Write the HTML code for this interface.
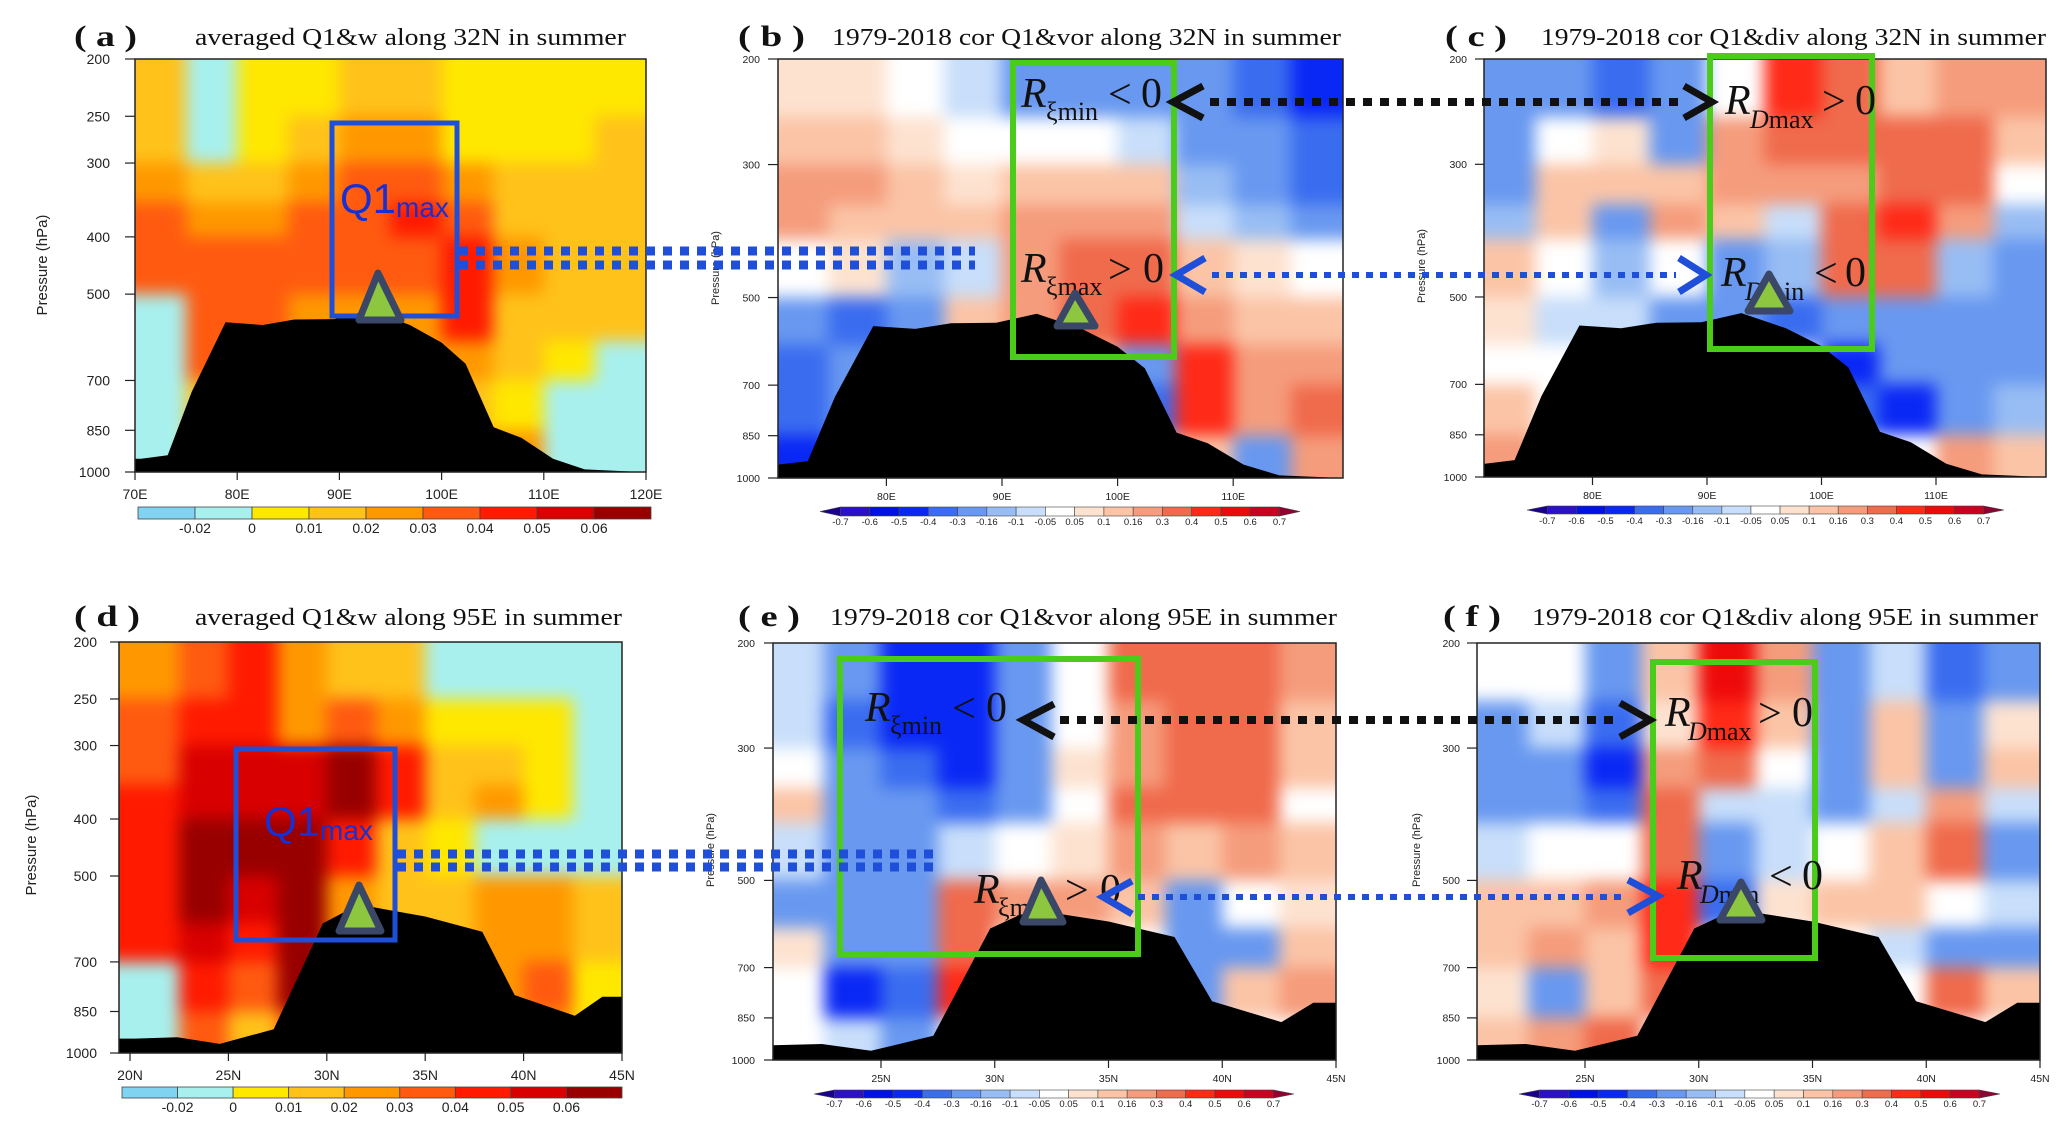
<!DOCTYPE html>
<html><head><meta charset="utf-8"><title>Q1 cross sections</title>
<style>
html,body{margin:0;padding:0;background:#fff;}
svg{display:block;font-family:"Liberation Sans",sans-serif;}
.ttl{font-family:"Liberation Serif",serif;fill:#111;}
.ann{font-family:"Liberation Serif",serif;fill:#111;}
</style></head>
<body>
<svg id="fig" width="2067" height="1130" viewBox="0 0 2067 1130" xmlns="http://www.w3.org/2000/svg">
<defs>
<filter id="blur" filterUnits="userSpaceOnUse" x="0" y="0" width="2067" height="1130" color-interpolation-filters="sRGB"><feGaussianBlur stdDeviation="8"/></filter>
</defs>
<g id="plots"></g>
<g id="annot">
  <text class="ttl" x="74" y="46" font-size="30" font-weight="bold" textLength="63" lengthAdjust="spacingAndGlyphs">( a )</text>
  <text class="ttl" x="195" y="45" font-size="24" textLength="431" lengthAdjust="spacingAndGlyphs">averaged Q1&amp;w along 32N in summer</text>
  <text class="ttl" x="738" y="46" font-size="30" font-weight="bold" textLength="67" lengthAdjust="spacingAndGlyphs">( b )</text>
  <text class="ttl" x="832" y="45" font-size="24" textLength="509" lengthAdjust="spacingAndGlyphs">1979-2018 cor Q1&amp;vor along 32N in summer</text>
  <text class="ttl" x="1445" y="46" font-size="30" font-weight="bold" textLength="62" lengthAdjust="spacingAndGlyphs">( c )</text>
  <text class="ttl" x="1541" y="45" font-size="24" textLength="505" lengthAdjust="spacingAndGlyphs">1979-2018 cor Q1&amp;div along 32N in summer</text>
  <text class="ttl" x="74" y="626" font-size="30" font-weight="bold" textLength="66" lengthAdjust="spacingAndGlyphs">( d )</text>
  <text class="ttl" x="195" y="625" font-size="24" textLength="427" lengthAdjust="spacingAndGlyphs">averaged Q1&amp;w along 95E in summer</text>
  <text class="ttl" x="738" y="626" font-size="30" font-weight="bold" textLength="62" lengthAdjust="spacingAndGlyphs">( e )</text>
  <text class="ttl" x="830" y="625" font-size="24" textLength="507" lengthAdjust="spacingAndGlyphs">1979-2018 cor Q1&amp;vor along 95E in summer</text>
  <text class="ttl" x="1443" y="626" font-size="30" font-weight="bold" textLength="58" lengthAdjust="spacingAndGlyphs">( f )</text>
  <text class="ttl" x="1532" y="625" font-size="24" textLength="506" lengthAdjust="spacingAndGlyphs">1979-2018 cor Q1&amp;div along 95E in summer</text>

  <rect x="332" y="123" width="125" height="193" fill="none" stroke="#1f4fd8" stroke-width="5"/>
  <rect x="236" y="749" width="159" height="191" fill="none" stroke="#1f4fd8" stroke-width="5"/>
  <rect x="1013" y="63" width="161" height="294" fill="none" stroke="#4ccc1a" stroke-width="6"/>
  <rect x="1710" y="56" width="162" height="293" fill="none" stroke="#4ccc1a" stroke-width="6"/>
  <rect x="840" y="659" width="298" height="295" fill="none" stroke="#4ccc1a" stroke-width="6"/>
  <rect x="1653" y="662" width="162" height="296" fill="none" stroke="#4ccc1a" stroke-width="6"/>

  <text x="340" y="213" font-size="42" fill="#1a2fd0">Q1<tspan font-size="28" dy="4">max</tspan></text>
  <text x="264" y="836" font-size="42" fill="#1a2fd0">Q1<tspan font-size="28" dy="4">max</tspan></text>

  <g class="ann"><text x="1021" y="107" font-size="42" font-style="italic">R</text><text x="1046" y="120" font-size="26">ξmin</text><text x="1108" y="108" font-size="42">&lt;</text><text x="1141" y="107" font-size="42">0</text></g>
  <g class="ann"><text x="1021" y="282" font-size="42" font-style="italic">R</text><text x="1046" y="295" font-size="26">ξmax</text><text x="1108" y="283" font-size="42">&gt;</text><text x="1143" y="282" font-size="42">0</text></g>
  <g class="ann"><text x="1725" y="114" font-size="42" font-style="italic">R</text><text x="1750" y="128" font-size="26"><tspan font-style="italic">D</tspan>max</text><text x="1822" y="115" font-size="42">&gt;</text><text x="1855" y="114" font-size="42">0</text></g>
  <g class="ann"><text x="1721" y="286" font-size="42" font-style="italic">R</text><text x="1745" y="300" font-size="26"><tspan font-style="italic">D</tspan>min</text><text x="1814" y="287" font-size="42">&lt;</text><text x="1845" y="286" font-size="42">0</text></g>
  <g class="ann"><text x="865" y="721" font-size="42" font-style="italic">R</text><text x="890" y="734" font-size="26">ξmin</text><text x="952" y="722" font-size="42">&lt;</text><text x="986" y="721" font-size="42">0</text></g>
  <g class="ann"><text x="974" y="903" font-size="42" font-style="italic">R</text><text x="998" y="916" font-size="26">ξmax</text><text x="1065" y="904" font-size="42">&gt;</text><text x="1100" y="903" font-size="42">0</text></g>
  <g class="ann"><text x="1665" y="726" font-size="42" font-style="italic">R</text><text x="1688" y="740" font-size="26"><tspan font-style="italic">D</tspan>max</text><text x="1758" y="727" font-size="42">&gt;</text><text x="1792" y="726" font-size="42">0</text></g>
  <g class="ann"><text x="1677" y="889" font-size="42" font-style="italic">R</text><text x="1700" y="903" font-size="26"><tspan font-style="italic">D</tspan>min</text><text x="1769" y="890" font-size="42">&lt;</text><text x="1802" y="889" font-size="42">0</text></g>

  <g fill="#8dc63f" stroke="#3b4766" stroke-width="7" stroke-linejoin="round">
    <polygon points="378,273 359,320 401,320"/>
    <polygon points="1075,293 1057,326 1095,326"/>
    <polygon points="1769,274 1748,311 1790,311"/>
    <polygon points="359,885 339,931 381,931"/>
    <polygon points="1041,880 1023,922 1063,922"/>
    <polygon points="1741,882 1720,920 1762,920"/>
  </g>

  <g fill="none">
    <line x1="459" y1="251" x2="975" y2="251" stroke="#1f4fd8" stroke-width="9" stroke-dasharray="9 8"/>
    <line x1="459" y1="265" x2="975" y2="265" stroke="#1f4fd8" stroke-width="9" stroke-dasharray="9 8"/>
    <line x1="1210" y1="102" x2="1680" y2="102" stroke="#111" stroke-width="8" stroke-dasharray="9 8"/>
    <line x1="1212" y1="275" x2="1676" y2="275" stroke="#1f4fd8" stroke-width="6" stroke-dasharray="7 7"/>
    <line x1="397" y1="854" x2="935" y2="854" stroke="#1f4fd8" stroke-width="9" stroke-dasharray="9 8"/>
    <line x1="397" y1="867" x2="935" y2="867" stroke="#1f4fd8" stroke-width="9" stroke-dasharray="9 8"/>
    <line x1="1060" y1="720" x2="1616" y2="720" stroke="#111" stroke-width="8" stroke-dasharray="9 8"/>
    <line x1="1138" y1="897" x2="1626" y2="897" stroke="#1f4fd8" stroke-width="6" stroke-dasharray="7 7"/>
  </g>
  <g fill="none" stroke-width="7" stroke-linejoin="miter">
    <polyline points="1203,86 1173,102 1203,118" stroke="#111"/>
    <polyline points="1205,258 1176,275 1205,292" stroke="#1f4fd8"/>
    <polyline points="1684,86 1712,102 1684,118" stroke="#111"/>
    <polyline points="1679,258 1706,275 1679,292" stroke="#1f4fd8"/>
    <polyline points="1054,704 1023,720 1054,737" stroke="#111"/>
    <polyline points="1132,881 1103,897 1132,914" stroke="#1f4fd8"/>
    <polyline points="1620,703 1650,720 1620,737" stroke="#111"/>
    <polyline points="1628,880 1658,896 1628,913" stroke="#1f4fd8"/>
  </g>
</g>
</svg>
<script>
const pressureEdges = [200, 250, 300, 350, 400, 500, 600, 700, 850, 1000];
const lonEdges = [70, 75, 80, 85, 90, 95, 100, 105, 110, 115, 120];
const latEdges = [20, 22.5, 25, 27.5, 30, 32.5, 35, 37.5, 40, 42.5, 45];

const q1Along32N = [
  [0.012,-0.005,0.004,0.006,0.012,0.012,0.0,0.006,0.006,0.003],
  [0.015,-0.005,0.006,0.01,0.02,0.02,0.006,0.008,0.008,0.012],
  [0.022,0.012,0.014,0.022,0.03,0.034,0.022,0.012,0.012,0.015],
  [0.03,0.025,0.022,0.03,0.035,0.042,0.035,0.015,0.015,0.015],
  [0.035,0.03,0.035,0.035,0.032,0.038,0.045,0.02,0.015,0.015],
  [-0.01,0.035,0.03,0.025,0.022,0.022,0.04,0.015,0.012,0.01],
  [-0.015,0.03,0.02,0.02,0.02,0.02,0.025,0.01,0.005,-0.005],
  [-0.02,0.01,0.01,0.01,0.01,0.01,0.01,0.002,-0.01,-0.01],
  [-0.015,0.0,0.01,0.01,0.01,0.01,0.01,0.02,-0.01,-0.01]
];
const corVor32N = [
  [0.05,0.05,0.0,-0.1,-0.3,-0.2,-0.25,-0.3,-0.35,-0.45],
  [0.15,0.1,0.05,-0.05,-0.05,0.0,-0.1,-0.25,-0.3,-0.4],
  [0.2,0.2,0.12,0.05,0.15,0.15,0.1,-0.15,-0.25,-0.35],
  [0.2,0.15,0.15,0.1,0.2,0.25,0.2,-0.1,-0.15,-0.2],
  [0.0,0.05,-0.15,-0.1,0.25,0.3,0.35,0.15,0.05,0.0],
  [-0.3,-0.35,-0.3,0.1,0.25,0.3,0.45,0.25,0.15,0.1],
  [-0.35,-0.2,0,0,0,0.1,-0.3,0.45,0.2,0.2],
  [-0.4,-0.2,0,0,0,0,-0.4,0.4,0.25,0.3],
  [-0.5,-0.3,0,0,0,0,0,0.1,-0.2,0.2]
];
const corDiv32N = [
  [-0.3,-0.3,-0.35,-0.3,0.0,0.45,0.3,0.1,0.2,0.25],
  [-0.3,-0.05,0.05,-0.2,0.25,0.35,0.3,0.3,0.3,0.15],
  [-0.2,0.15,0.1,0.15,0.2,0.25,0.25,0.35,0.3,0.0],
  [-0.15,0.15,-0.2,0.2,0.15,-0.1,0.3,0.4,0.2,-0.15],
  [0.1,-0.05,-0.15,0.0,-0.2,-0.15,0.35,0.3,-0.15,-0.3],
  [0.05,-0.1,-0.1,-0.3,-0.3,-0.4,-0.3,-0.2,-0.3,-0.2],
  [0.0,0,0,0,0,0,-0.5,-0.3,-0.2,-0.2],
  [0.1,0,0,0,0,0,-0.4,-0.5,-0.2,-0.15],
  [0.2,0,0,0,0,0,0,0,0.2,0.1]
];
const q1Along95E = [
  [0.025,0.03,0.04,0.02,0.015,0.012,-0.005,-0.01,-0.01,-0.01],
  [0.03,0.04,0.045,0.025,0.035,0.02,0.005,0.008,0.0,-0.01],
  [0.035,0.05,0.05,0.05,0.06,0.045,0.01,0.015,0.005,-0.005],
  [0.04,0.055,0.05,0.055,0.065,0.045,0.01,0.02,0.008,-0.005],
  [0.045,0.065,0.06,0.065,0.045,0.015,0.005,-0.005,-0.01,-0.005],
  [0.045,0.065,0.05,0.065,0.02,0.01,0.012,0.025,0.02,0.01],
  [0.04,0.05,0.04,0.065,0.02,0.01,0.01,0.025,0.025,0.015],
  [-0.01,0.04,0.035,0.065,0,0,0,0.02,0.03,0.005],
  [-0.02,0.03,0.01,0.03,0,0,0,0,0.02,0.0]
];
const corVor95E = [
  [-0.1,-0.3,-0.5,-0.5,-0.2,0.0,0.3,0.35,0.35,0.2],
  [-0.1,-0.35,-0.45,-0.5,-0.3,-0.05,0.25,0.35,0.3,0.15],
  [0.0,-0.3,-0.35,-0.45,-0.3,0.05,0.2,0.35,0.35,0.1],
  [0.1,-0.3,-0.3,-0.4,-0.3,0.0,0.3,0.35,0.3,-0.05],
  [-0.1,-0.3,-0.25,-0.1,0.0,0.05,0.2,0.1,0.2,0.1],
  [-0.2,-0.3,-0.3,0.3,0.2,0.2,0.1,-0.2,0.0,0.05],
  [0.05,-0.3,-0.3,0.35,0,0,0,-0.3,-0.2,0.15],
  [-0.05,-0.45,-0.4,0.4,0,0,0,-0.3,0.1,0.2],
  [0.0,-0.1,-0.3,0,0,0,0,0,0,0]
];
const corDiv95E = [
  [-0.05,0.0,-0.3,0.1,0.5,0.2,-0.3,-0.1,-0.35,-0.2],
  [-0.2,-0.1,-0.35,0.05,0.45,0.1,-0.2,0.1,-0.2,0.05],
  [-0.3,-0.3,-0.5,0.25,0.35,0.0,-0.2,0.1,-0.2,0.15],
  [-0.3,-0.3,-0.4,0.35,-0.1,-0.1,-0.2,-0.1,0.25,-0.1],
  [-0.1,0.0,-0.05,0.35,-0.3,-0.1,0.0,0.1,0.35,-0.2],
  [0.1,0.15,0.2,0.45,-0.4,0.05,0.15,0.15,0.0,-0.1],
  [0.1,0.2,0.1,0.45,0,0,0,-0.1,-0.3,-0.2],
  [0.05,-0.2,0.15,0.3,0,0,0,0,0.3,0.1],
  [0.1,0.2,0.3,0,0,0,0,0,0,0]
];

const terrain32NLon = [70.6,73.2,75.55,78.86,82.5,85.6,89.5,93.0,96.9,100.0,102.35,105.1,107.8,110.9,114.0,119.5];
const terrain32NP   = [950,937,732,558,564,552,551,532,564,604,656,840,875,950,990,1000];
const terrain95ELat = [20.25,22.4,24.56,27.3,29.8,31.1,32.1,35.0,37.9,39.55,42.6,44.0,45.0];
const terrain95EP   = [945,940,965,911,602,571,563,586,622,797,864,802,802];

const q1Levels = [-0.02,0,0.01,0.02,0.03,0.04,0.05,0.06];
const q1LevelLabels = ['-0.02','0','0.01','0.02','0.03','0.04','0.05','0.06'];
const q1Colors = ['#80d4f2','#a8f0ee','#ffe800','#ffc21a','#ff9800','#ff5a10','#ff1a00','#d80000','#980000'];
const corLevels = [-0.7,-0.6,-0.5,-0.4,-0.3,-0.16,-0.1,-0.05,0.05,0.1,0.16,0.3,0.4,0.5,0.6,0.7];
const corLevelLabels = ['-0.7','-0.6','-0.5','-0.4','-0.3','-0.16','-0.1','-0.05','0.05','0.1','0.16','0.3','0.4','0.5','0.6','0.7'];
const corColors = ['#1a0090','#2a10c8','#0010e8','#0a28f5','#3a6cf0','#6898f0','#98bdf4','#c8defa','#ffffff','#fde2d0','#fbc4a6','#f59c7c','#f06a4c','#ff2a18','#ee0a0a','#cc0020','#900030'];

const pTicksBig = [200,250,300,400,500,700,850,1000];
const pTicksSmall = [200,300,500,700,850,1000];
const lonTicksA = [70,80,90,100,110,120];
const lonTicksA_lbl = ['70E','80E','90E','100E','110E','120E'];
const lonTicksBC = [80,90,100,110];
const lonTicksBC_lbl = ['80E','90E','100E','110E'];
const latTicksD = [20,25,30,35,40,45];
const latTicksD_lbl = ['20N','25N','30N','35N','40N','45N'];
const latTicksEF = [25,30,35,40,45];
const latTicksEF_lbl = ['25N','30N','35N','40N','45N'];

const NS = 'http://www.w3.org/2000/svg';
const root = document.getElementById('plots');
function mk(tag, attrs, parent){
  const e = document.createElementNS(NS, tag);
  for (const k in attrs) e.setAttribute(k, attrs[k]);
  (parent || root).appendChild(e);
  return e;
}
function colorFor(v, levels, colors){
  let i = 0;
  while (i < levels.length && v >= levels[i]) i++;
  return colors[i];
}

const panels = [
  {key:'a', x0:135,x1:646,y0:59,y1:472, xOf:v=>135+(v-70)*10.22, field:q1Along32N, edges:lonEdges, levels:q1Levels, colors:q1Colors,
   tx:terrain32NLon, tp:terrain32NP, big:true, pt:pTicksBig, xt:lonTicksA, xl:lonTicksA_lbl, lblEnd:110, tick0:125, xlY:499, plX:47, plY:265,
   cb:{x0:138,x1:651,y0:507,y1:519,ly:533,fs:14,tri:false}},
  {key:'b', x0:778,x1:1343,y0:59,y1:478, xOf:v=>1002+(v-90)*11.56, field:corVor32N, edges:lonEdges, levels:corLevels, colors:corColors,
   tx:terrain32NLon, tp:terrain32NP, big:false, pt:pTicksSmall, xt:lonTicksBC, xl:lonTicksBC_lbl, lblEnd:760, tick0:768, xlY:500, plX:719, plY:268,
   cb:{x0:820,x1:1300,y0:507,y1:516,ly:525,fs:9.5,tri:true}},
  {key:'c', x0:1484,x1:2046,y0:59,y1:477, xOf:v=>1707+(v-90)*11.45, field:corDiv32N, edges:lonEdges, levels:corLevels, colors:corColors,
   tx:terrain32NLon, tp:terrain32NP, big:false, pt:pTicksSmall, xt:lonTicksBC, xl:lonTicksBC_lbl, lblEnd:1467, tick0:1475, xlY:499, plX:1425, plY:266,
   cb:{x0:1527,x1:2004,y0:506,y1:514,ly:524,fs:9.5,tri:true}},
  {key:'d', x0:119,x1:622,y0:642,y1:1053, xOf:v=>130+(v-20)*19.68, field:q1Along95E, edges:latEdges, levels:q1Levels, colors:q1Colors,
   tx:terrain95ELat, tp:terrain95EP, big:true, pt:pTicksBig, xt:latTicksD, xl:latTicksD_lbl, lblEnd:97, tick0:110, xlY:1080, plX:36, plY:845,
   cb:{x0:122,x1:622,y0:1087,y1:1098,ly:1112,fs:14,tri:false}},
  {key:'e', x0:773,x1:1336,y0:643,y1:1060, xOf:v=>881+(v-25)*22.75, field:corVor95E, edges:latEdges, levels:corLevels, colors:corColors,
   tx:terrain95ELat, tp:terrain95EP, big:false, pt:pTicksSmall, xt:latTicksEF, xl:latTicksEF_lbl, lblEnd:755, tick0:764, xlY:1082, plX:714, plY:850,
   cb:{x0:814,x1:1294,y0:1090,y1:1098,ly:1107,fs:9.5,tri:true}},
  {key:'f', x0:1477,x1:2040,y0:643,y1:1060, xOf:v=>1585+(v-25)*22.75, field:corDiv95E, edges:latEdges, levels:corLevels, colors:corColors,
   tx:terrain95ELat, tp:terrain95EP, big:false, pt:pTicksSmall, xt:latTicksEF, xl:latTicksEF_lbl, lblEnd:1460, tick0:1467, xlY:1082, plX:1420, plY:850,
   cb:{x0:1519,x1:2000,y0:1090,y1:1098,ly:1107,fs:9.5,tri:true}}
];

panels.forEach(P => {
  const yOf = p => P.y0 + Math.log(p/200)/Math.log(5)*(P.y1-P.y0);
  const g = mk('g', {});
  
  
  const cp = mk('clipPath', {id:'clip-'+P.key}, g);
  mk('rect', {x:P.x0, y:P.y0, width:P.x1-P.x0, height:P.y1-P.y0}, cp);
  const plot = mk('g', {'clip-path':'url(#clip-'+P.key+')'}, g);
  
  
  const field = mk('g', {filter:'url(#blur)'}, plot);
  
  
  const nR = P.field.length, nC = P.field[0].length;
  for (let r = 0; r < nR; r++) {
    let ya = yOf(pressureEdges[r]), yb = yOf(pressureEdges[r+1]);
    if (r === 0) ya = P.y0 - 30;
    if (r === nR-1) yb = P.y1 + 30;
    for (let c = 0; c < nC; c++) {
      let xa = P.xOf(P.edges[c]), xb = P.xOf(P.edges[c+1]);
      if (c === 0) xa = Math.min(xa, P.x0) - 30;
      if (c === nC-1) xb = Math.max(xb, P.x1) + 30;
      const cell = mk('rect', {x:xa.toFixed(1), y:ya.toFixed(1), width:(xb-xa+0.8).toFixed(1), height:(yb-ya+0.8).toFixed(1),
        fill:colorFor(P.field[r][c], P.levels, P.colors)}, field);
      
      
    }
  }
  const pts = [];
  pts.push((P.x0-5)+','+(P.y1+5));
  pts.push((P.x0-5)+','+yOf(P.tp[0]).toFixed(1));
  for (let i = 0; i < P.tx.length; i++) pts.push(P.xOf(P.tx[i]).toFixed(1)+','+yOf(P.tp[i]).toFixed(1));
  pts.push((P.x1+5)+','+yOf(P.tp[P.tp.length-1]).toFixed(1));
  pts.push((P.x1+5)+','+(P.y1+5));
  const terr = mk('polygon', {points:pts.join(' '), fill:'#000'}, plot);
  
  
  const fr = mk('rect', {x:P.x0, y:P.y0, width:P.x1-P.x0, height:P.y1-P.y0, fill:'none', stroke:'#222', 'stroke-width':1.5}, g);
  
  
  const fs = P.big ? 14 : 10.5;
  P.pt.forEach(p => {
    const y = yOf(p);
    mk('line', {x1:P.tick0, x2:P.x0, y1:y, y2:y, stroke:'#222', 'stroke-width':1.2}, g);
    const t = mk('text', {x:P.lblEnd, y:y+fs*0.36, 'font-size':fs, 'text-anchor':'end', fill:'#222'}, g);
    t.textContent = String(p);
    
    
  });
  P.xt.forEach((v, i) => {
    const x = P.xOf(v);
    mk('line', {x1:x, x2:x, y1:P.y1, y2:P.y1+8, stroke:'#222', 'stroke-width':1.2}, g);
    const t = mk('text', {x:x, y:P.xlY, 'font-size':fs, 'text-anchor':'middle', fill:'#222'}, g);
    t.textContent = P.xl[i];
    
    
  });
  const yt = mk('text', {x:P.plX, y:P.plY, 'font-size':P.big?15:11, 'text-anchor':'middle', fill:'#222', transform:'rotate(-90 '+P.plX+' '+P.plY+')'}, g);
  yt.textContent = 'Pressure (hPa)';
  
  
  const cb = P.cb;
  const cbg = mk('g', {}, g);
  
  
  const nCol = P.colors.length;
  if (!cb.tri) {
    const w = (cb.x1-cb.x0)/nCol;
    for (let i = 0; i < nCol; i++) {
      const sw = mk('rect', {x:cb.x0+i*w, y:cb.y0, width:w, height:cb.y1-cb.y0, fill:P.colors[i], stroke:'#444', 'stroke-width':0.8}, cbg);
      
      
    }
    P.levels.forEach((lv, i) => {
      const t = mk('text', {x:cb.x0+(i+1)*w, y:cb.ly, 'font-size':cb.fs, 'text-anchor':'middle', fill:'#222'}, cbg);
      t.textContent = q1LevelLabels[i];
      
      
    });
  } else {
    const nBox = nCol - 2;
    const w = (cb.x1-cb.x0)/(nBox+1.4);
    const tw = 0.7*w;
    const bx0 = cb.x0 + tw;
    const ym = (cb.y0+cb.y1)/2;
    const t1 = mk('polygon', {points:cb.x0+','+ym+' '+bx0+','+cb.y0+' '+bx0+','+cb.y1, fill:P.colors[0], stroke:'#444','stroke-width':0.6}, cbg);
    
    
    for (let i = 0; i < nBox; i++) {
      const sw = mk('rect', {x:bx0+i*w, y:cb.y0, width:w, height:cb.y1-cb.y0, fill:P.colors[i+1], stroke:'#444', 'stroke-width':0.6}, cbg);
      
      
    }
    const bx1 = bx0 + nBox*w;
    const t2 = mk('polygon', {points:bx1+','+cb.y0+' '+cb.x1+','+ym+' '+bx1+','+cb.y1, fill:P.colors[nCol-1], stroke:'#444','stroke-width':0.6}, cbg);
    
    
    P.levels.forEach((lv, i) => {
      const t = mk('text', {x:bx0+i*w, y:cb.ly, 'font-size':cb.fs, 'text-anchor':'middle', fill:'#222'}, cbg);
      t.textContent = corLevelLabels[i];
      
      
    });
  }
});
</script>
</body></html>
